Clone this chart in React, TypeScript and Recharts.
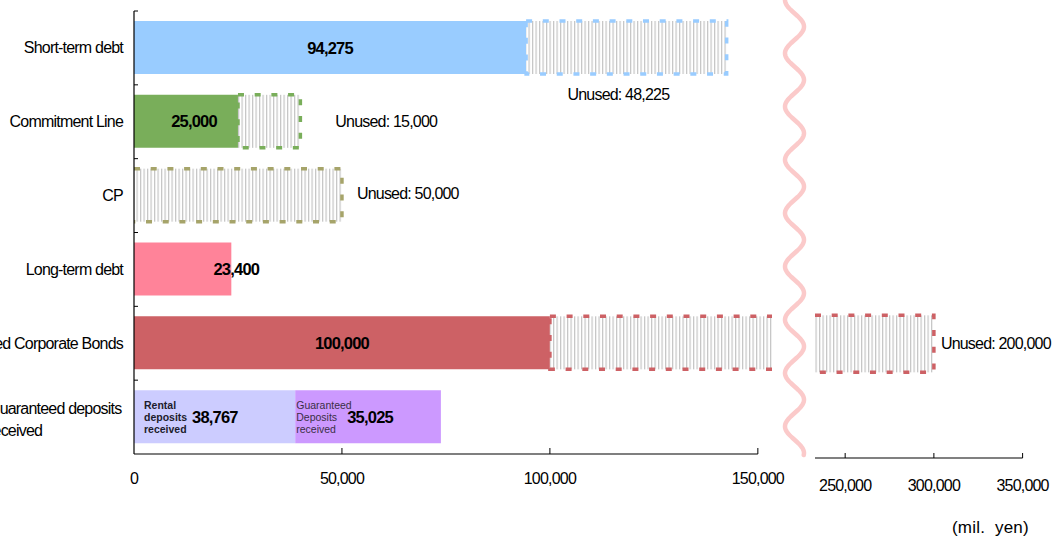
import React from 'react';
import { BarChart, Bar, XAxis, YAxis, Cell, LabelList, ReferenceArea } from 'recharts';

// data (mil. yen)
const categories = [
  'Short-term debt',
  'Commitment Line',
  'CP',
  'Long-term debt',
  'Unsecured Corporate Bonds',
  'Guaranteed deposits\nreceived',
];
const usedAmounts = [94275, 25000, 0, 23400, 100000, 38767];
const secondAmounts = [0, 0, 0, 0, 0, 35025];
const unusedAmounts = [48225, 15000, 50000, 0, 200000, 0];
const leftTicks = [0, 50000, 100000, 150000];
const rightTicks = [250000, 300000, 350000];
const segmentNotes = ['Rental\ndeposits\nreceived', 'Guaranteed\nDeposits\nreceived'];
const unitLabel = '(mil.  yen)';

// styles
const FONT = '"Liberation Sans", Arial, Helvetica, sans-serif';
const usedColors = ['#99ccff', '#79ae5a', '#a6a46a', '#ff8399', '#cd6165', '#ccccff'];
const edgeColors = ['#99ccff', '#79ae5a', '#a6a46a', '#ff8399', '#cd6165', '#ccccff'];
const secondColor = '#cc99ff';

// layout
const LEFT_W = 790;
const LEFT_PLOT = { left: 134, right: 772, top: 11, bottom: 454 };
const RIGHT_PLOT = { left: 815, right: 1022.6, top: 0, bottom: 458 };
const LEFT_MAX = 153400;
const RIGHT_MIN = 233000;
const RIGHT_MAX = 350000;
const DEPOSIT_ROW = 5;
const BAND = (LEFT_PLOT.bottom - LEFT_PLOT.top) / categories.length;

type Plot = typeof LEFT_PLOT;

const rows = categories.map((name, i) => ({
  name,
  used: usedAmounts[i],
  second: secondAmounts[i],
  unused: unusedAmounts[i],
}));

const fmt = (v: number) => v.toLocaleString('en-US');

const textBase = { fontFamily: FONT, fill: '#000' };

const box = (p: any) => ({
  x: p.viewBox?.x ?? p.x,
  y: p.viewBox?.y ?? p.y,
  width: p.viewBox?.width ?? p.width,
  height: p.viewBox?.height ?? p.height,
});

const rowOf = (plot: Plot, cy: number) => {
  const band = (plot.bottom - plot.top) / categories.length;
  return Math.max(0, Math.min(categories.length - 1, Math.floor((cy - plot.top) / band)));
};

const CategoryTick = (p: any) => {
  const { x, y, payload } = p;
  const lines = String(payload.value).split('\n');
  const top = y - BAND / 2;
  return (
    <g>
      <line x1={x} x2={x + 4} y1={top} y2={top} stroke="#000" strokeWidth={1} />
      {lines.length === 1 ? (
        <text x={x - 11} y={y} textAnchor="end" dominantBaseline="central" fontSize={16} letterSpacing={-0.8} {...textBase}>
          {lines[0]}
        </text>
      ) : (
        <text x={-12} y={y - 9} fontSize={16} letterSpacing={-0.8} dominantBaseline="central" {...textBase}>
          {lines.map((l, k) => (
            <tspan key={k} x={-12} dy={k === 0 ? 0 : 22}>
              {l}
            </tspan>
          ))}
        </text>
      )}
    </g>
  );
};

const makeValueTick = (labelOffset: number, markLen: number) => (p: any) => {
  const { x, y, payload } = p;
  return (
    <g>
      {payload.value !== 0 && <line x1={x} x2={x} y1={y} y2={y - markLen} stroke="#000" strokeWidth={1} />}
      <text x={x} y={y + labelOffset} textAnchor="middle" dominantBaseline="central" fontSize={16} letterSpacing={-0.8} {...textBase}>
        {fmt(payload.value)}
      </text>
    </g>
  );
};

const Note = ({ text, x, cy, bold }: { text: string; x: number; cy: number; bold: boolean }) => (
  <text x={x} y={cy - 12} fontSize={10.5} fontWeight={bold ? 'bold' : 'normal'} dominantBaseline="central" fontFamily={FONT} fill={bold ? '#1c1c2c' : '#3a2f45'}>
    {text.split('\n').map((l, k) => (
      <tspan key={k} x={x} dy={k === 0 ? 0 : 12.3}>
        {l}
      </tspan>
    ))}
  </text>
);

const valueText = (x: number, cy: number, v: number, anchor: 'middle' | 'start') => (
  <text x={x} y={cy} textAnchor={anchor} dominantBaseline="central" fontSize={16.5} fontWeight="bold" letterSpacing={-0.8} {...textBase}>
    {fmt(v)}
  </text>
);

// where the amount sits on each used bar
const valuePos: Record<string, { at: 'center' | 'end'; dx: number }> = {
  'Commitment Line': { at: 'center', dx: 8 },
  'Long-term debt': { at: 'end', dx: 5 },
};

const UsedLabel = (p: any) => {
  const { x, y, width, height } = box(p);
  const cy = y + height / 2;
  const i = rowOf(LEFT_PLOT, cy);
  const v = usedAmounts[i];
  if (!v || !width) return null;
  if (i === DEPOSIT_ROW) {
    return (
      <g>
        <Note text={segmentNotes[0]} x={x + 10} cy={cy} bold />
        {valueText(x + 58, cy, v, 'start')}
      </g>
    );
  }
  const rule = valuePos[categories[i]] ?? { at: 'center', dx: 0 };
  const tx = rule.at === 'end' ? x + width + rule.dx : x + width / 2 + rule.dx;
  return valueText(tx, cy, v, 'middle');
};

const SecondLabel = (p: any) => {
  const { x, y, width, height } = box(p);
  const cy = y + height / 2;
  const i = rowOf(LEFT_PLOT, cy);
  const v = secondAmounts[i];
  if (!v || !width) return null;
  return (
    <g>
      <Note text={segmentNotes[1]} x={x + 1} cy={cy} bold={false} />
      {valueText(x + 52, cy, v, 'start')}
    </g>
  );
};

const unusedPos: Record<string, { mode: 'below' | 'right'; dx: number; dy: number }> = {
  'Short-term debt': { mode: 'below', dx: -8, dy: 20 },
  'Commitment Line': { mode: 'right', dx: 35, dy: 0 },
  CP: { mode: 'right', dx: 15, dy: -2 },
  'Unsecured Corporate Bonds': { mode: 'right', dx: 7, dy: 0 },
};

const makeUnusedLabel = (plot: Plot, side: 'left' | 'right') => (p: any) => {
  const { x, y, width, height } = box(p);
  const cy = y + height / 2;
  const i = rowOf(plot, cy);
  const v = unusedAmounts[i];
  if (!v || !width) return null;
  const total = usedAmounts[i] + secondAmounts[i] + v;
  const broken = total > LEFT_MAX;
  if ((side === 'right') !== broken) return null;
  const rule = unusedPos[categories[i]] ?? { mode: 'right', dx: 8, dy: 0 };
  const below = rule.mode === 'below';
  const tx = below ? x + width / 2 + rule.dx : x + width + rule.dx;
  const ty = below ? y + height + rule.dy : cy + rule.dy;
  return (
    <text x={tx} y={ty} textAnchor={below ? 'middle' : 'start'} dominantBaseline="central" fontSize={16} letterSpacing={-0.8} {...textBase}>
      {`Unused: ${fmt(v)}`}
    </text>
  );
};

// hatched box with a dashed edge; sides cut by the axis break stay open
const makeUnusedShape = (plot: Plot) => (p: any) => {
  const { x, y, width, height } = p;
  if (!width || width <= 0) return <g />;
  const i = rowOf(plot, y + height / 2);
  const x0 = Math.max(x, plot.left);
  const x1 = Math.min(x + width, plot.right);
  if (x1 <= x0) return <g />;
  const openLeft = x < plot.left + 0.5;
  const openRight = x + width > plot.right - 0.5;
  let d = `M${x0} ${y} L${x1} ${y}`;
  d += openRight ? ` M${x1} ${y + height}` : ` L${x1} ${y + height}`;
  d += ` L${x0} ${y + height}`;
  if (!openLeft) d += ` L${x0} ${y}`;
  return (
    <g>
      <rect x={x0} y={y} width={x1 - x0} height={height} fill="url(#hatch)" />
      <path d={d} fill="none" stroke={edgeColors[i]} strokeWidth={3.5} strokeDasharray="6 10.7" />
    </g>
  );
};

const AxisLineShape = (p: any) => (
  <line x1={p.x} x2={p.x + p.width} y1={p.y + p.height} y2={p.y + p.height} stroke="#000" strokeWidth={1.2} />
);

function Wave() {
  // decorative axis-break squiggle
  const cx = 794.5;
  const amp = 9.5;
  const period = 53.3;
  let d = '';
  for (let y = 0; y <= 455; y += 1) {
    const x = cx - amp * Math.cos((2 * Math.PI * y) / period);
    d += (y === 0 ? 'M' : 'L') + x.toFixed(2) + ' ' + y + ' ';
  }
  return <path d={d} fill="none" stroke="#fbcaca" strokeWidth={4.5} strokeLinecap="round" />;
}

export default function App() {
  return (
    <div style={{ position: 'absolute', left: 0, top: 0, width: 1052, height: 536, overflow: 'hidden', background: '#fff', fontFamily: FONT }}>
      <svg width={0} height={0} style={{ position: 'absolute' }}>
        <defs>
          <pattern id="hatch" width={3.5} height={10} patternUnits="userSpaceOnUse">
            <rect width={3.5} height={10} fill="#fff" />
            <rect x={0} width={1.2} height={10} fill="#c4c4c4" />
          </pattern>
        </defs>
      </svg>

      <div style={{ position: 'absolute', left: 0, top: 0 }}>
        <BarChart
          width={LEFT_W}
          height={536}
          data={rows}
          layout="vertical"
          margin={{ top: LEFT_PLOT.top, right: LEFT_W - LEFT_PLOT.right, bottom: 536 - LEFT_PLOT.bottom - 30, left: 0 }}
        >
          <XAxis
            type="number"
            domain={[0, LEFT_MAX]}
            ticks={leftTicks}
            allowDataOverflow
            axisLine={false}
            tickLine={false}
            tickSize={0}
            tickMargin={0}
            height={30}
            interval={0}
            tick={makeValueTick(24, 6)}
          />
          <YAxis
            type="category"
            dataKey="name"
            width={LEFT_PLOT.left}
            axisLine={{ stroke: '#000', strokeWidth: 1.2 }}
            tickLine={false}
            tickSize={0}
            tickMargin={0}
            interval={0}
            tick={CategoryTick}
          />
          <ReferenceArea x1={0} x2={150000} shape={AxisLineShape} ifOverflow="visible" />
          <Bar dataKey="used" stackId="a" barSize={53} isAnimationActive={false}>
            {rows.map((r, i) => (
              <Cell key={r.name} fill={usedColors[i]} />
            ))}
            <LabelList dataKey="used" content={UsedLabel} />
          </Bar>
          <Bar dataKey="second" stackId="a" barSize={53} fill={secondColor} isAnimationActive={false}>
            <LabelList dataKey="second" content={SecondLabel} />
          </Bar>
          <Bar dataKey="unused" stackId="a" barSize={53} shape={makeUnusedShape(LEFT_PLOT)} isAnimationActive={false}>
            <LabelList dataKey="unused" content={makeUnusedLabel(LEFT_PLOT, 'left')} />
          </Bar>
        </BarChart>
      </div>

      <div style={{ position: 'absolute', left: 0, top: 0 }}>
        <BarChart
          width={1052}
          height={536}
          data={rows}
          layout="vertical"
          margin={{ top: RIGHT_PLOT.top, right: 1052 - RIGHT_PLOT.right, bottom: 536 - RIGHT_PLOT.bottom - 30, left: RIGHT_PLOT.left }}
        >
          <XAxis
            type="number"
            domain={[RIGHT_MIN, RIGHT_MAX]}
            ticks={rightTicks}
            allowDataOverflow
            axisLine={{ stroke: '#808080', strokeWidth: 2 }}
            tickLine={false}
            tickSize={0}
            tickMargin={0}
            height={30}
            interval={0}
            tick={makeValueTick(27, 5)}
          />
          <YAxis type="category" dataKey="name" hide width={0} />
          <Bar dataKey="used" stackId="b" barSize={57} isAnimationActive={false}>
            {rows.map((r, i) => (
              <Cell key={r.name} fill={usedColors[i]} />
            ))}
          </Bar>
          <Bar dataKey="second" stackId="b" barSize={57} fill={secondColor} isAnimationActive={false} />
          <Bar dataKey="unused" stackId="b" barSize={57} shape={makeUnusedShape(RIGHT_PLOT)} isAnimationActive={false}>
            <LabelList dataKey="unused" content={makeUnusedLabel(RIGHT_PLOT, 'right')} />
          </Bar>
        </BarChart>
      </div>

      <svg width={1052} height={536} style={{ position: 'absolute', left: 0, top: 0, pointerEvents: 'none' }}>
        <Wave />
      </svg>

      <div style={{ position: 'absolute', left: 952, top: 518, fontSize: 17, lineHeight: '20px', letterSpacing: 0.2, whiteSpace: 'pre', color: '#000' }}>
        {unitLabel}
      </div>
    </div>
  );
}
